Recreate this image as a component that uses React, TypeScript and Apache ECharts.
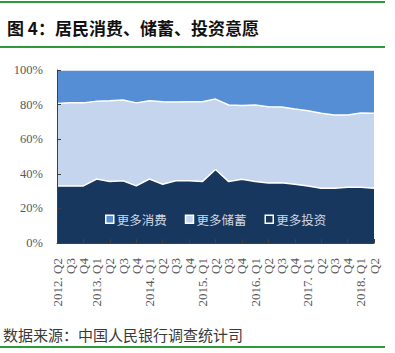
import React, { useEffect, useRef } from "react";
import * as echarts from "echarts";

const categories = [
  "2012. Q2", "Q3", "Q4", "2013. Q1", "Q2", "Q3", "Q4",
  "2014. Q1", "Q2", "Q3", "Q4", "2015. Q1", "Q2", "Q3", "Q4",
  "2016. Q1", "Q2", "Q3", "Q4", "2017. Q1", "Q2", "Q3", "Q4",
  "2018. Q1", "Q2",
];

const investment = [33, 33, 33, 37, 35.5, 36, 33, 37, 34, 36, 36, 35.5, 42.5, 35.5, 36.8, 35.5, 34.7, 34.8, 34, 33, 31.6, 31.6, 32.2, 32.2, 31.6];
const saving = [47.7, 48, 48, 45, 46.7, 46.6, 48, 45.2, 47.7, 45.5, 45.6, 46.2, 40.7, 44.3, 42.7, 44.3, 44.1, 43.8, 43.5, 43.5, 43.4, 42.4, 41.8, 42.9, 43.4];
const consumption = [19.3, 19, 19, 18, 17.8, 17.4, 19, 17.8, 18.3, 18.5, 18.4, 18.3, 16.8, 20.2, 20.5, 20.2, 21.2, 21.4, 22.5, 23.5, 25, 26, 26, 24.9, 25];

const yTicks = [0, 20, 40, 60, 80, 100];

const seriesNames = ["更多消费", "更多储蓄", "更多投资"];
const colors = { consumption: "#558ED5", saving: "#C6D5EE", investment: "#17375E" };

export default function App() {
  const ref = useRef<HTMLDivElement>(null);
  useEffect(() => {
    document.body.style.margin = "0";
    if (!ref.current) return;
    const chart = echarts.init(ref.current, null, { renderer: "svg" });
    const mk = (name: string, data: number[], color: string) => ({
      name,
      type: "line",
      stack: "total",
      data,
      symbol: "none",
      smooth: false,
      lineStyle: { color: "#ffffff", width: 1.5 },
      areaStyle: { color, opacity: 1 },
      itemStyle: { color },
      z: 2,
    });
    chart.setOption({
      animation: false,
      title: {
        text: "图 4：居民消费、储蓄、投资意愿",
        left: 2,
        top: 14,
        textStyle: {
          fontFamily: "Noto Sans CJK SC",
          fontWeight: "bold",
          fontSize: 17,
          color: "#111111",
        },
      },
      legend: {
        data: [
          { name: seriesNames[0], itemStyle: { color: colors.consumption, borderColor: "#ffffff", borderWidth: 1.5 } },
          { name: seriesNames[1], itemStyle: { color: colors.saving, borderColor: "#ffffff", borderWidth: 1.5 } },
          { name: seriesNames[2], itemStyle: { color: colors.investment, borderColor: "#ffffff", borderWidth: 1.5 } },
        ],
        icon: "rect",
        itemWidth: 8,
        itemHeight: 8,
        itemGap: 18,
        left: 100,
        top: 208,
        textStyle: {
          color: "#d0d8e6",
          fontSize: 12.5,
          fontFamily: "Noto Sans CJK SC",
          padding: [0, 0, 0, -2],
        },
      },
      grid: { left: 57, right: 21, top: 70, bottom: 110 },
      xAxis: {
        type: "category",
        data: categories,
        boundaryGap: false,
        axisLine: { show: true, lineStyle: { color: "#404040", width: 1 } },
        axisTick: { show: true, inside: true, interval: 1, length: 4, lineStyle: { color: "#404040" } },
        axisLabel: {
          rotate: 90,
          interval: 0,
          margin: 15,
          fontFamily: "Liberation Serif",
          fontSize: 13,
          color: "#595959",
        },
        z: 5,
      },
      yAxis: {
        type: "value",
        min: 0,
        max: 100,
        interval: 20,
        axisLine: { show: true, lineStyle: { color: "#404040", width: 1 } },
        axisTick: { show: true, inside: true, length: 4, lineStyle: { color: "#404040" } },
        splitLine: { show: false },
        axisLabel: {
          formatter: (v: number) => (yTicks.includes(v) ? v + "%" : ""),
          margin: 14,
          fontFamily: "Liberation Serif",
          fontSize: 12.5,
          color: "#595959",
        },
        z: 5,
      },
      series: [
        mk(seriesNames[2], investment, colors.investment),
        mk(seriesNames[1], saving, colors.saving),
        mk(seriesNames[0], consumption, colors.consumption),
      ],
      graphic: [
        { type: "line", shape: { x1: 0, y1: 2, x2: 385, y2: 2 }, style: { stroke: "#2f9a3a", lineWidth: 2 } },
        { type: "line", shape: { x1: 0, y1: 47, x2: 385, y2: 47 }, style: { stroke: "#2f9a3a", lineWidth: 2 } },
        { type: "line", shape: { x1: 0, y1: 347, x2: 385, y2: 347 }, style: { stroke: "#2f9a3a", lineWidth: 2 } },
        {
          type: "text",
          x: 3,
          y: 334,
          style: {
            text: "数据来源：中国人民银行调查统计司",
            fontFamily: "Noto Sans CJK SC",
            fontSize: 15,
            fill: "#3a3a3a",
            verticalAlign: "middle",
          },
        },
      ],
    });
    return () => chart.dispose();
  }, []);
  return <div ref={ref} style={{ width: 395, height: 353 }} />;
}
